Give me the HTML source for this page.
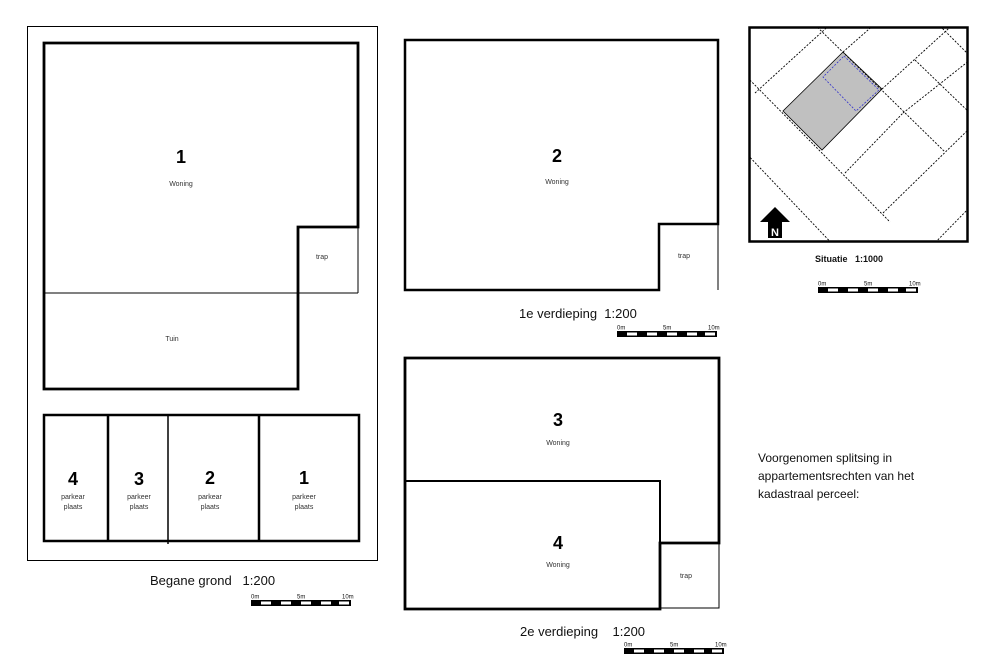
<!DOCTYPE html>
<html><head><meta charset="utf-8"><style>
html,body{margin:0;padding:0;background:#fff;}
svg{display:block;font-family:"Liberation Sans",sans-serif;}
.n{font-weight:bold;font-size:18px;text-anchor:middle;}
.s{font-size:7px;text-anchor:middle;fill:#333;}
.t{font-size:13px;fill:#111;}
.sb{font-size:6px;fill:#111;}
</style></head><body>
<svg width="990" height="668" viewBox="0 0 990 668" xmlns="http://www.w3.org/2000/svg">
<defs>
<g id="bar">
<rect x="0" y="0" width="100" height="6" fill="#000"/>
<rect x="10" y="1.5" width="10" height="3" fill="#fff"/>
<rect x="30" y="1.5" width="10" height="3" fill="#fff"/>
<rect x="50" y="1.5" width="10" height="3" fill="#fff"/>
<rect x="70" y="1.5" width="10" height="3" fill="#fff"/>
<rect x="88" y="1.5" width="10" height="3" fill="#fff"/>
<text x="0" y="-1.5" class="sb">0m</text>
<text x="46" y="-1.5" class="sb">5m</text>
<text x="91" y="-1.5" class="sb">10m</text>
</g>
<clipPath id="sc"><rect x="749" y="27" width="219" height="215"/></clipPath>
</defs>

<!-- Begane grond -->
<rect x="27.5" y="26.5" width="350" height="534" fill="none" stroke="#000" stroke-width="1"/>
<line x1="44" y1="293" x2="358" y2="293" stroke="#000" stroke-width="1"/>
<polyline points="358,227 358,293" fill="none" stroke="#000" stroke-width="1"/>
<polygon points="44,43 358,43 358,227 298,227 298,389 44,389" fill="none" stroke="#000" stroke-width="2.8"/>
<text x="181" y="163" class="n">1</text>
<text x="181" y="186" class="s">Woning</text>
<text x="322" y="259" class="s">trap</text>
<text x="172" y="341" class="s">Tuin</text>

<rect x="44" y="415" width="315" height="126" fill="none" stroke="#000" stroke-width="2.5"/>
<line x1="108" y1="415" x2="108" y2="541" stroke="#000" stroke-width="2.5"/>
<line x1="168" y1="415" x2="168" y2="544" stroke="#000" stroke-width="1.5"/>
<line x1="259" y1="415" x2="259" y2="541" stroke="#000" stroke-width="2.5"/>
<text x="73" y="485" class="n">4</text><text x="73" y="499" class="s">parkear</text><text x="73" y="509" class="s">plaats</text>
<text x="139" y="485" class="n">3</text><text x="139" y="499" class="s">parkeer</text><text x="139" y="509" class="s">plaats</text>
<text x="210" y="484" class="n">2</text><text x="210" y="499" class="s">parkear</text><text x="210" y="509" class="s">plaats</text>
<text x="304" y="484" class="n">1</text><text x="304" y="499" class="s">parkeer</text><text x="304" y="509" class="s">plaats</text>

<text x="150" y="585" class="t">Begane grond&#160;&#160;&#160;1:200</text>
<use href="#bar" transform="translate(251,600)"/>

<!-- 1e verdieping -->
<line x1="718" y1="224" x2="718" y2="290" stroke="#000" stroke-width="1"/>
<polygon points="405,40 718,40 718,224 659,224 659,290 405,290" fill="none" stroke="#000" stroke-width="2.5"/>
<text x="557" y="162" class="n">2</text>
<text x="557" y="184" class="s">Woning</text>
<text x="684" y="258" class="s">trap</text>
<text x="519" y="318" class="t">1e verdieping&#160;&#160;1:200</text>
<use href="#bar" transform="translate(617,331)"/>

<!-- 2e verdieping -->
<polyline points="660,543 719,543 719,608 660,608" fill="none" stroke="#000" stroke-width="1"/>
<polygon points="405,358 719,358 719,543 660,543 660,609 405,609" fill="none" stroke="#000" stroke-width="2.8"/>
<polyline points="405,481 660,481 660,543" fill="none" stroke="#000" stroke-width="2"/>
<text x="558" y="426" class="n">3</text>
<text x="558" y="445" class="s">Woning</text>
<text x="558" y="549" class="n">4</text>
<text x="558" y="567" class="s">Woning</text>
<text x="686" y="578" class="s">trap</text>
<text x="520" y="636" class="t">2e verdieping&#160;&#160;&#160;&#160;1:200</text>
<use href="#bar" transform="translate(624,648)"/>

<!-- Situatie -->
<g clip-path="url(#sc)" stroke="#000" stroke-width="0.9" stroke-dasharray="2,1.5" fill="none">
<polygon points="843,52 882,89 822,150 783,111" fill="#c0c0c0" stroke="#000" stroke-dasharray="none" stroke-width="0.8"/>
<polygon points="844,56 879,90 856,111 823,77" stroke="#33c" stroke-width="0.8"/>
<line x1="740" y1="70" x2="890" y2="222"/>
<line x1="755" y1="93" x2="835" y2="20"/>
<line x1="743" y1="150" x2="840" y2="252"/>
<line x1="810" y1="20" x2="945" y2="152"/>
<line x1="843" y1="52" x2="885" y2="15"/>
<line x1="882" y1="89" x2="958" y2="20"/>
<line x1="845" y1="173" x2="903" y2="113"/>
<line x1="883" y1="213" x2="970" y2="128"/>
<line x1="903" y1="113" x2="970" y2="60"/>
<line x1="928" y1="250" x2="972" y2="205"/>
<line x1="940" y1="26" x2="972" y2="58"/>
<line x1="915" y1="60" x2="972" y2="115"/>
<line x1="745" y1="30" x2="755" y2="22"/>
</g>
<rect x="749.5" y="27.5" width="218" height="214" fill="none" stroke="#000" stroke-width="2.5"/>
<polygon points="775,207 760,222 768,222 768,238 782,238 782,222 790,222" fill="#000"/>
<text x="775" y="236" font-size="11" font-weight="bold" fill="#fff" text-anchor="middle">N</text>
<text x="815" y="262" font-size="9" font-weight="bold" fill="#111">Situatie&#160;&#160;&#160;1:1000</text>
<use href="#bar" transform="translate(818,287)"/>

<text x="758" y="462" font-size="12" fill="#111">Voorgenomen splitsing in</text>
<text x="758" y="480" font-size="12" fill="#111">appartementsrechten van het</text>
<text x="758" y="498" font-size="12" fill="#111">kadastraal perceel:</text>
</svg>
</body></html>
